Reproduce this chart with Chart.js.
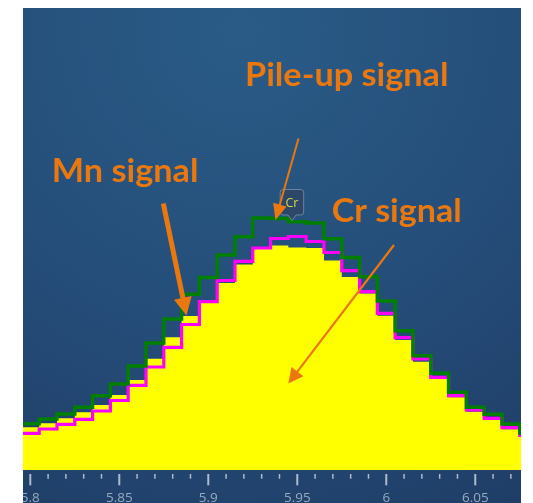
<!DOCTYPE html>
<html><head><meta charset="utf-8">
<script src="https://cdn.jsdelivr.net/npm/chart.js@4"></script>
<style>html,body{margin:0;padding:0;background:#fff;} canvas{display:block;}</style>
</head><body>
<canvas id="c" width="533" height="503"></canvas>
<script>
// ---- data (channel centres in keV, heights in arbitrary counts) ----
const energies = [5.80,5.81,5.82,5.83,5.84,5.85,5.86,5.87,5.88,5.89,5.90,5.91,5.92,5.93,5.94,5.95,5.96,5.97,5.98,5.99,6.00,6.01,6.02,6.03,6.04,6.05,6.06,6.07,6.08];
const measured  = [42.7,46.7,51.7,57.7,65,75,90,111.3,132.7,154,167,187,205.5,221,224.5,222.5,222,209.5,193,176.5,154.3,130,108.3,91,72.7,58.3,50,40.7,35];
const crMnFit   = [36.7,41,45.7,50.7,59,69.5,84.7,103,122.7,145.5,168.3,189.5,208.7,222,231.5,233.5,228.5,217.5,199.3,178.3,156.7,132.3,111,92.7,74.3,60,51.7,42.3,34.5];
const pileUpFit = [46.3,51,56,62.7,74.3,86,104,127,151,175.7,192.5,215,233.3,252,251.5,248.3,247,231.2,212.5,193.3,169,139.3,114.3,96.7,77.7,62.7,55.7,46,37];
const binWidth = 0.01;
const xMin = 5.7959, xMax = 6.0757;
const yMax = 462;
const majorTickValues = [5.8, 5.85, 5.9, 5.95, 6, 6.05];
const tickLabels = ['5.8', '5.85', '5.9', '5.95', '6', '6.05'];
const minorTickFirst = 5.80, minorTickLast = 6.07, minorTickStep = 0.01;
const crMarkerEnergy = 5.947;
const crMarkerLabel = 'Cr';
const annotationTexts = ['Pile-up signal', 'Mn signal', 'Cr signal'];

function stepPoints(vals) {
  const pts = energies.map((e, i) => ({ x: e - binWidth / 2, y: vals[i] }));
  pts.push({ x: energies[energies.length - 1] + binWidth / 2, y: vals[vals.length - 1] });
  return pts;
}
function labelFor(v) {
  const i = majorTickValues.findIndex(t => Math.abs(t - v) < 1e-6);
  return i >= 0 ? tickLabels[i] : '';
}

const ORANGE = '#ea780f';

const bgPlugin = {
  id: 'bg',
  beforeDraw(chart) {
    const { ctx, chartArea: a } = chart;
    ctx.save();
    ctx.fillStyle = '#ffffff';
    ctx.fillRect(0, 0, chart.width, chart.height);
    const g = ctx.createRadialGradient(240, 30, 10, 240, 30, 560);
    g.addColorStop(0, '#295b86');
    g.addColorStop(0.5, '#254e7a');
    g.addColorStop(1, '#1f3d66');
    ctx.fillStyle = g;
    ctx.fillRect(a.left, a.top, a.right - a.left, chart.height - a.top);
    ctx.restore();
  }
};

function drawArrow(ctx, x1, y1, x2, y2, w, hl, hw) {
  const dx = x2 - x1, dy = y2 - y1, L = Math.hypot(dx, dy);
  const ux = dx / L, uy = dy / L, nx = -uy, ny = ux;
  const bx = x2 - ux * hl, by = y2 - uy * hl;
  ctx.strokeStyle = ORANGE; ctx.fillStyle = ORANGE;
  ctx.lineWidth = w; ctx.lineCap = 'butt';
  ctx.beginPath(); ctx.moveTo(x1, y1); ctx.lineTo(bx + ux * 2, by + uy * 2); ctx.stroke();
  ctx.beginPath();
  ctx.moveTo(x2, y2);
  ctx.lineTo(bx + nx * hw, by + ny * hw);
  ctx.lineTo(bx - nx * hw, by - ny * hw);
  ctx.closePath(); ctx.fill();
}
function drawLabel(ctx, text, left, baseline, targetW) {
  ctx.font = 'bold 32.5px Lato';
  const w = ctx.measureText(text).width;
  ctx.save();
  ctx.translate(left, baseline);
  ctx.scale(targetW / w, 1);
  ctx.fillStyle = ORANGE;
  ctx.textAlign = 'left'; ctx.textBaseline = 'alphabetic';
  ctx.fillText(text, 0, 0);
  ctx.restore();
}

const overlayPlugin = {
  id: 'overlay',
  afterDraw(chart) {
    const { ctx, chartArea: a } = chart;
    const xs = chart.scales.x;
    ctx.save();
    // tick marks
    xs.ticks.forEach(t => {
      const x = xs.getPixelForValue(t.value);
      const major = labelFor(t.value) !== '';
      ctx.strokeStyle = '#aebbcd';
      ctx.lineWidth = major ? 2 : 1.5;
      ctx.beginPath();
      ctx.moveTo(x, a.bottom + 4);
      ctx.lineTo(x, a.bottom + (major ? 15.3 : 8.7));
      ctx.stroke();
    });
    // white margins
    ctx.fillStyle = '#ffffff';
    ctx.fillRect(0, 0, a.left, chart.height);
    ctx.fillRect(a.right, 0, chart.width - a.right, chart.height);
    ctx.fillRect(0, 0, chart.width, a.top);

    // Cr marker
    const mx = xs.getPixelForValue(crMarkerEnergy);
    const top = 189.5, bot = 215, half = 11.75, r = 3;
    ctx.beginPath();
    ctx.moveTo(mx - half + r, top);
    ctx.lineTo(mx + half - r, top);
    ctx.quadraticCurveTo(mx + half, top, mx + half, top + r);
    ctx.lineTo(mx + half, bot - r);
    ctx.quadraticCurveTo(mx + half, bot, mx + half - r, bot);
    ctx.lineTo(mx + 4, bot);
    ctx.lineTo(mx, bot + 5.5);
    ctx.lineTo(mx - 4, bot);
    ctx.lineTo(mx - half + r, bot);
    ctx.quadraticCurveTo(mx - half, bot, mx - half, bot - r);
    ctx.lineTo(mx - half, top + r);
    ctx.quadraticCurveTo(mx - half, top, mx - half + r, top);
    ctx.closePath();
    ctx.fillStyle = 'rgba(44,70,102,0.92)';
    ctx.fill();
    ctx.strokeStyle = 'rgba(130,150,175,0.75)';
    ctx.lineWidth = 1;
    ctx.stroke();
    ctx.fillStyle = '#d8d548';
    ctx.font = '12.5px "Open Sans"';
    ctx.textAlign = 'center'; ctx.textBaseline = 'middle';
    ctx.fillText(crMarkerLabel, mx, 203);

    // annotation arrows
    drawArrow(ctx, 298.5, 138.5, 275.5, 220, 2, 16, 7);
    drawArrow(ctx, 163.3, 203.5, 186.5, 315.5, 5, 18, 9);
    drawArrow(ctx, 394, 245, 288.3, 383.5, 2.2, 15, 7.5);
    // annotation texts
    drawLabel(ctx, annotationTexts[0], 245, 86, 203.5);
    drawLabel(ctx, annotationTexts[1], 51.7, 181.7, 146.7);
    drawLabel(ctx, annotationTexts[2], 331.7, 221.7, 130);
    ctx.restore();
  }
};

new Chart(document.getElementById('c'), {
  type: 'line',
  data: {
    datasets: [
      { label: 'Pile-up fit', data: stepPoints(pileUpFit), stepped: 'before', borderColor: '#008000', borderWidth: 3.4, pointRadius: 0, fill: false, order: 1, clip: 0 },
      { label: 'Cr + Mn fit', data: stepPoints(crMnFit), stepped: 'before', borderColor: '#ff00ff', borderWidth: 3.2, pointRadius: 0, fill: false, order: 2, clip: 0 },
      { label: 'Measured', data: stepPoints(measured), stepped: 'before', borderColor: 'rgba(0,0,0,0)', borderWidth: 1, backgroundColor: '#ffff00', pointRadius: 0, fill: 'origin', order: 3, clip: 0 }
    ]
  },
  options: {
    responsive: false,
    animation: false,
    events: [],
    layout: { autoPadding: false, padding: { left: 23, right: 12, top: 8, bottom: 0 } },
    plugins: { legend: { display: false }, tooltip: { enabled: false } },
    scales: {
      x: {
        type: 'linear', min: xMin, max: xMax,
        grid: { display: false, drawTicks: false },
        border: { display: false },
        afterBuildTicks(scale) {
          const t = [];
          const n = Math.round((minorTickLast - minorTickFirst) / minorTickStep);
          for (let i = 0; i <= n; i++) t.push({ value: +(minorTickFirst + i * minorTickStep).toFixed(4) });
          scale.ticks = t;
        },
        afterFit(scale) { scale.height = 33; },
        ticks: {
          autoSkip: false, maxRotation: 0, minRotation: 0, padding: 20,
          color: '#98a9bf',
          font: { family: '"Open Sans"', size: 13.5 },
          callback: (v) => labelFor(v)
        }
      },
      y: { display: false, min: 0, max: yMax }
    }
  },
  plugins: [bgPlugin, overlayPlugin]
});
</script>
</body></html>
